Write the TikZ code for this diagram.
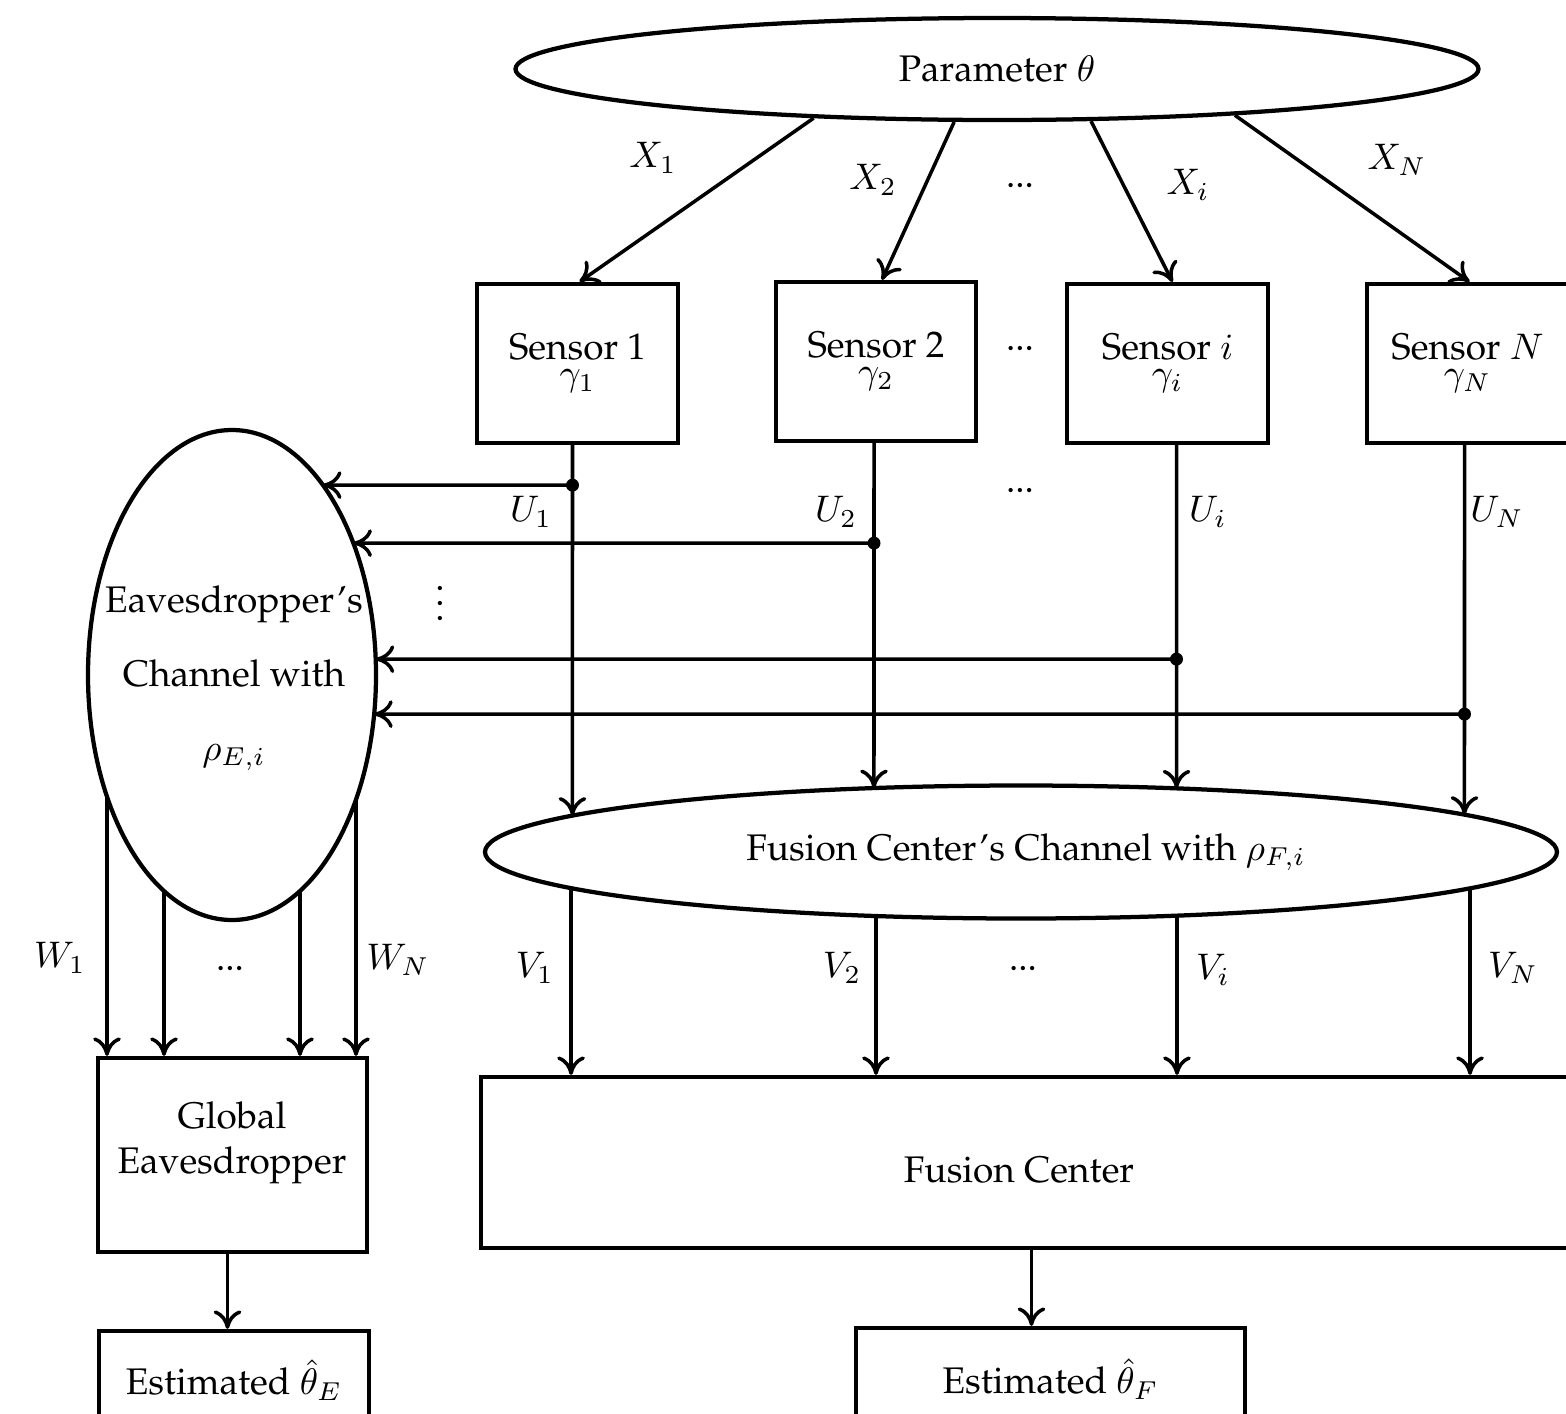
\documentclass[tikz,border=0pt]{standalone}
\usepackage[T1]{fontenc}
\usepackage{palatino}
\usetikzlibrary{shapes.geometric,arrows.meta,intersections}
\def\pxu{0.2703pt}
\tikzset{
  boxn/.style={draw, line width=1.15pt, rectangle, inner sep=0pt, align=center},
  ell/.style={draw, line width=1.15pt, ellipse, inner sep=0pt, align=center},
  arr/.style={draw, line width=0.95pt, -{To[length=5pt,width=7.5pt]}},
  lbl/.style={inner sep=0pt, align=center},
}
\begin{document}
\begin{tikzpicture}[x=\pxu, y=-\pxu]
\useasboundingbox (0,0) rectangle (1566,1413);

% main nodes
\node[ell, minimum width=963*\pxu, minimum height=102*\pxu] (param) at (997,69) {Parameter $\theta$};
\node[boxn, minimum width=201*\pxu, minimum height=159*\pxu] (s1) at (577.5,363.5) {Sensor 1\\[-5pt]$\gamma_1$};
\node[boxn, minimum width=200*\pxu, minimum height=159*\pxu] (s2) at (876,361.5) {Sensor 2\\[-5pt]$\gamma_2$};
\node[boxn, minimum width=201*\pxu, minimum height=159*\pxu] (si) at (1167.5,363.5) {Sensor $i$\\[-5pt]$\gamma_i$};
\node[boxn, minimum width=201*\pxu, minimum height=159*\pxu] (sN) at (1467.5,363.5) {Sensor $N$\\[-5pt]$\gamma_N$};

\node[ell, minimum width=288*\pxu, minimum height=490*\pxu] (eve) at (232,675) {};
\node[lbl] (evet) at (234,678) {Eavesdropper's\\[8pt]Channel with\\[8pt]$\rho_{E,i}$};
\path[name path=evep] (eve.center) ellipse [x radius=144, y radius=245];

\node[ell, minimum width=1072*\pxu, minimum height=133*\pxu] (fc) at (1021,852) {};
\node[lbl] (fct) at (1026,852) {Fusion Center's Channel with $\rho_{F,i}$};
\path[name path=fcp] (fc.center) ellipse [x radius=536, y radius=66.5];

\node[boxn, minimum width=269*\pxu, minimum height=194*\pxu] (glob) at (232.5,1155) {};
\node[lbl] (globt) at (232,1143) {Global\\Eavesdropper};
\node[boxn, minimum width=1300*\pxu, minimum height=171*\pxu] (fcb) at (1131,1162.5) {};
\node[lbl] (fcbt) at (1019,1170) {Fusion Center};
\node[boxn, minimum width=270*\pxu, minimum height=98*\pxu] (estE) at (234,1380) {Estimated $\hat\theta_E$};
\node[boxn, minimum width=389*\pxu, minimum height=102*\pxu] (estF) at (1050.5,1379) {Estimated $\hat\theta_F$};

% parameter to sensors
\draw[arr] (param.195.2) -- ([xshift=2*\pxu]s1.north);
\draw[arr] (param.231.9) -- ([xshift=6*\pxu]s2.north);
\draw[arr] (param.331.3) -- ([xshift=5*\pxu]si.north);
\draw[arr] (param.349.3) -- ([xshift=2*\pxu]sN.north);

% tap points
\coordinate (t1) at ([xshift=-5*\pxu]s1.south);
\coordinate (t2) at ([xshift=-2*\pxu]s2.south);
\coordinate (ti) at ([xshift=9*\pxu]si.south);
\coordinate (tN) at ([xshift=-3*\pxu]sN.south);
\coordinate (d1) at ([yshift=-40*\pxu]t1);
\coordinate (d2) at ([yshift=-100*\pxu]t2);
\coordinate (di) at ([yshift=-214*\pxu]ti);
\coordinate (dN) at ([yshift=-269*\pxu]tN);

% sensors down to fusion channel, taps to eavesdropper channel
\foreach \t in {1,2,i,N}{
  \path[name path=pu\t] (t\t) -- (t\t |- fc.center);
  \draw[arr, name intersections={of=fcp and pu\t, by={iu\t}}] (t\t) -- (iu\t);
  \path[name path=ph\t] (d\t) -- (d\t -| eve.center);
  \draw[arr, name intersections={of=evep and ph\t, by={ih\t}}] (d\t) -- (ih\t);
  \fill (d\t) circle [radius=6.5];
}

% fusion channel to fusion center
\foreach \t/\s in {1/-450,2/-145,i/156,N/449}{
  \path[name path=pv\t] ([xshift=\s*\pxu]fc.center) -- ++(0,300);
  \draw[arr, name intersections={of=fcp and pv\t, by={iv\t}}] (iv\t) -- (iv\t |- fcb.north);
}

% eavesdropper channel to global eavesdropper
\foreach \t/\s in {a/-125,b/-68,c/68,d/124}{
  \path[name path=pw\t] ([xshift=\s*\pxu]eve.center) -- ++(0,400);
  \draw[arr, name intersections={of=evep and pw\t, by={iw\t}}] (iw\t) -- (iw\t |- glob.north);
}

% outputs
\draw[arr] ([xshift=-5*\pxu]glob.south) -- ([xshift=-5*\pxu]glob.south |- estE.north);
\coordinate (fo) at ([xshift=-19*\pxu]estF.north);
\draw[arr] (fo |- fcb.south) -- (fo);

% labels
\node[lbl] (lx1) at (653,158) {$X_1$};
\node[lbl] (lx2) at (873,180) {$X_2$};
\node[lbl] (lxd) at (1020,185) {...};
\node[lbl] (lxi) at (1188,185) {$X_i$};
\node[lbl] (lxN) at (1397,160) {$X_N$};
\node[lbl] (lsd) at (1020,348) {...};
\node[lbl] (lud) at (1020,490) {...};
\node[lbl] (lu1) at (531,512) {$U_1$};
\node[lbl] (lu2) at (836,512) {$U_2$};
\node[lbl] (lui) at (1208,512) {$U_i$};
\node[lbl] (luN) at (1497,512) {$U_N$};
\node[lbl] (lvd) at (440,592) {$\vdots$};
\node[lbl] (lw1) at (60,958) {$W_1$};
\node[lbl] (lwd) at (230,968) {...};
\node[lbl] (lwN) at (398,960) {$W_N$};
\node[lbl] (lv1) at (535,968) {$V_1$};
\node[lbl] (lv2) at (842,968) {$V_2$};
\node[lbl] (lvdd) at (1023,968) {...};
\node[lbl] (lvi) at (1213,970) {$V_i$};
\node[lbl] (lvN) at (1513,968) {$V_N$};
\end{tikzpicture}
\end{document}
